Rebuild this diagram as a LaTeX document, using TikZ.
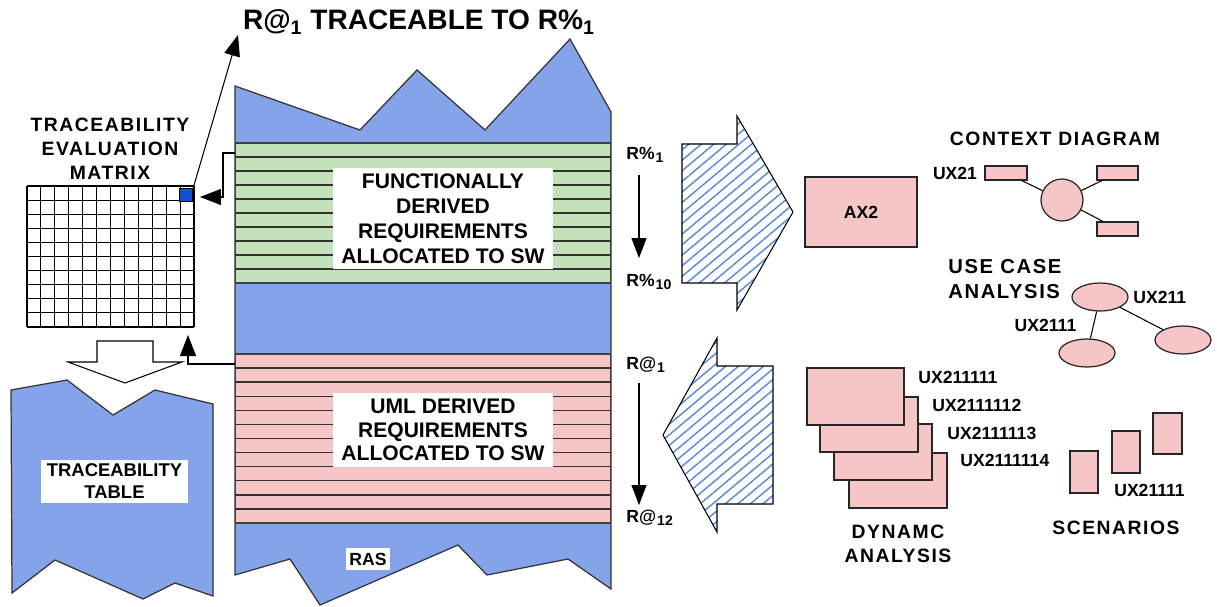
\documentclass[tikz,border=0pt]{standalone}
\usepackage{fontspec}
\setmainfont{Liberation Sans}
\newfontfamily\spacedfont{Liberation Sans}[LetterSpace=8]
\usetikzlibrary{arrows.meta,patterns.meta,shapes.geometric}

\definecolor{rasblue}{RGB}{132,163,232}
\definecolor{fngreen}{RGB}{196,226,186}
\definecolor{umlpink}{RGB}{246,198,198}
\definecolor{hatchblue}{RGB}{84,134,222}
\definecolor{cellblue}{RGB}{16,80,210}

% font size helper: size and baseline skip in pt
\newcommand\setfs[2]{\fontsize{#1}{#2}\selectfont}
% index digit set slightly lower and smaller after R% / R@
\newcommand\lowone[1]{\hspace{0.6pt}\raisebox{-0.3ex}{\setfs{8}{8}#1}}

\begin{document}
\begin{tikzpicture}[x=0.02cm,y=-0.02cm,
  rasshape/.style={fill=rasblue, draw=black!80, line width=0.7pt, line join=miter},
  bandline/.style={draw=black!80, line width=0.8pt},
  gridline/.style={draw=black, line width=0.6pt},
  hatched/.style={pattern={Lines[angle=40,distance=4.6pt,line width=0.8pt]},
                  pattern color=hatchblue, draw=black, line width=0.6pt},
  thinarrow/.style={draw=black, line width=0.6pt, -{Triangle[length=0.42cm,width=0.32cm]}},
  pinkbox/.style={draw=black!85, line width=0.7pt, fill=umlpink, inner sep=0pt},
  whitebox/.style={fill=white, inner sep=0pt, align=center},
  lbl/.style={font=\bfseries\setfs{10}{12}, inner sep=0pt},
  wide/.style={font=\spacedfont\bfseries\setfs{#1}{1.25\dimexpr#1pt\relax}, inner sep=0pt, align=center},
  wide/.default=11
]
\useasboundingbox (0,0) rectangle (1217,606);

% ---------------- title ----------------
\node[font=\bfseries\setfs{16}{18}, inner sep=0pt] (title) at (419,22)
  {R@\textsubscript{1} TRACEABLE TO R\%\textsubscript{1}};

% ---------------- central RAS column ----------------
\path[rasshape] (235,86) -- (360,130) -- (417,70) -- (485,130) -- (570,39)
  -- (611,112) -- (611,589) -- (568,559) -- (487,575) -- (458,545)
  -- (320,605) -- (290,559) -- (235,575) -- cycle;

\node[fill=fngreen, draw=black!75, line width=0.6pt, inner sep=0pt,
      minimum width=7.52cm, minimum height=2.8cm] (fnband) at (423,213) {};
\node[fill=umlpink, draw=black!75, line width=0.6pt, inner sep=0pt,
      minimum width=7.52cm, minimum height=3.38cm] (umlband) at (423,438.5) {};

\foreach \k in {1,...,9}
  \draw[bandline] (235,{143+14*\k}) -- (611,{143+14*\k});
\foreach \k in {1,...,11}
  \draw[bandline] (235,{354+14.08*\k}) -- (611,{354+14.08*\k});

\node[whitebox, font=\bfseries\setfs{12}{14.2}, minimum width=4.4cm, minimum height=2.02cm]
  (fntext) at (443,218.5) {FUNCTIONALLY\\DERIVED\\REQUIREMENTS\\ALLOCATED TO SW};
\node[whitebox, font=\bfseries\setfs{12}{13.4}, minimum width=4.4cm, minimum height=1.48cm]
  (umltext) at (443,430) {UML DERIVED\\REQUIREMENTS\\ALLOCATED TO SW};
\node[whitebox, font=\bfseries\setfs{10}{12}, minimum width=0.88cm, minimum height=0.44cm]
  (ras) at (368,559) {RAS};

% ---------------- traceability evaluation matrix ----------------
\node[wide=11] (mtxlabel) at (110,149) {TRACEABILITY\\EVALUATION\\MATRIX};
\node[fill=white, inner sep=0pt, minimum width=3.34cm, minimum height=2.82cm]
  (matrix) at (110.5,256.5) {};
\foreach \i in {0,...,12}
  \draw[gridline] ({27+\i*167/12},186) -- ({27+\i*167/12},327);
\foreach \j in {0,...,10}
  \draw[gridline] (27,{186+\j*14.1}) -- (194,{186+\j*14.1});
\node[fill=cellblue, draw=black, line width=0.6pt, inner sep=0pt,
      minimum size=0.27cm] (cell) at (186,195) {};

% matrix cell pointing to the title statement
\coordinate (titletip) at (238,35);
\draw[thinarrow] (cell.north east) -- (titletip);

% functional band feeding the matrix
\coordinate (fnout) at (235,153);
\coordinate (mtxin) at (200,197);
\draw[thinarrow] (fnout) -- ++(-12,0) |- (mtxin);

% UML band feeding the matrix
\coordinate (umlout) at (235,364);
\coordinate (mtxbottom) at (188,335);
\draw[thinarrow] (umlout) -| (mtxbottom);

% hollow block arrow from matrix down to the table
\draw[fill=white, draw=black, line width=0.6pt]
  (97,341) -- (153,341) -- (153,362) -- (182,362) -- (125,383)
  -- (68,362) -- (97,362) -- cycle;

% ---------------- traceability table ----------------
\path[rasshape] (11,390) -- (67,380) -- (113,415) -- (155,390) -- (213,404)
  -- (213,596) -- (175,583) -- (143,599) -- (55,560) -- (12,593) -- cycle;
\node[whitebox, font=\bfseries\setfs{10.5}{12.5}, minimum width=2.94cm, minimum height=0.86cm]
  (table) at (114.5,481.5) {TRACEABILITY\\TABLE};

% ---------------- requirement ranges ----------------
\node[lbl, anchor=west] (rp1) at (626,155) {R\%\lowone{1}};
\node[lbl, anchor=west] (rp10) at (626,282) {R\%\lowone{10}};
\coordinate (rpa) at (639,175);
\coordinate (rpb) at (639,258);
\draw[thinarrow, -{Triangle[length=0.4cm,width=0.3cm]}] (rpa) -- (rpb);

\node[lbl, anchor=west] (ra1) at (626,365) {R@\lowone{1}};
\node[lbl, anchor=west] (ra12) at (626,518) {R@\lowone{12}};
\coordinate (raa) at (639,383);
\coordinate (rab) at (639,505);
\draw[thinarrow, -{Triangle[length=0.4cm,width=0.3cm]}] (raa) -- (rab);

% hatched block arrows
\path[hatched] (682,144) -- (737,144) -- (737,116) -- (793,212) -- (737,310)
  -- (737,283) -- (682,283) -- cycle;
\path[hatched] (773,366) -- (717,366) -- (717,338) -- (663,435) -- (717,532)
  -- (717,504) -- (773,504) -- cycle;

% ---------------- AX2 ----------------
\node[pinkbox, font=\bfseries\setfs{10}{12}, minimum width=2.24cm, minimum height=1.4cm]
  (ax2) at (861,212) {AX2};

% ---------------- context diagram ----------------
\node[wide=11] (ctxlabel) at (1055,139) {CONTEXT DIAGRAM};
\node[lbl] (ux21) at (955,173) {UX21};
\node[pinkbox, circle, minimum size=0.84cm] (ctx) at (1062,200) {};
\node[pinkbox, minimum width=0.84cm, minimum height=0.28cm] (ctxa) at (1006,173) {};
\node[pinkbox, minimum width=0.82cm, minimum height=0.28cm] (ctxb) at (1117.5,173) {};
\node[pinkbox, minimum width=0.82cm, minimum height=0.28cm] (ctxc) at (1117.5,229) {};
\draw[line width=0.6pt] (ctxa) -- (ctx);
\draw[line width=0.6pt] (ctx) -- (ctxb);
\draw[line width=0.6pt] (ctx) -- (ctxc);

% ---------------- use case analysis ----------------
\node[wide=11.5, align=left, anchor=west] (uclabel) at (948,279) {USE CASE\\ANALYSIS};
\node[pinkbox, ellipse, minimum width=1.12cm, minimum height=0.56cm] (uca) at (1100,297) {};
\node[pinkbox, ellipse, minimum width=1.12cm, minimum height=0.56cm] (ucb) at (1087,353) {};
\node[pinkbox, ellipse, minimum width=1.12cm, minimum height=0.56cm] (ucc) at (1183,340) {};
\draw[line width=0.6pt] (uca) -- (ucb);
\draw[line width=0.6pt] (uca) -- (ucc);
\node[lbl, anchor=west] (ux211) at (1133,297) {UX211};
\node[lbl] (ux2111) at (1045.5,325) {UX2111};

% ---------------- dynamic analysis ----------------
\node[pinkbox, minimum width=1.96cm, minimum height=1.1cm] (dyn4) at (898,480.5) {};
\node[pinkbox, minimum width=1.96cm, minimum height=1.12cm] (dyn3) at (883,452) {};
\node[pinkbox, minimum width=1.96cm, minimum height=1.1cm] (dyn2) at (869,424.5) {};
\node[pinkbox, minimum width=1.94cm, minimum height=1.14cm] (dyn1) at (855.5,396.5) {};
\node[lbl, anchor=west] (dl1) at (918,377) {UX211111};
\node[lbl, anchor=west] (dl2) at (932,405) {UX2111112};
\node[lbl, anchor=west] (dl3) at (947,433) {UX2111113};
\node[lbl, anchor=west] (dl4) at (960,460) {UX2111114};
\node[wide=11] (dynlabel) at (898,543.5) {DYNAMC\\ANALYSIS};

% ---------------- scenarios ----------------
\node[pinkbox, minimum width=0.56cm, minimum height=0.84cm] (sc1) at (1084,472) {};
\node[pinkbox, minimum width=0.56cm, minimum height=0.84cm] (sc2) at (1126,452) {};
\node[pinkbox, minimum width=0.58cm, minimum height=0.82cm] (sc3) at (1167.5,433.5) {};
\node[lbl] (ux21111) at (1149.5,490) {UX21111};
\node[wide=11] (sclabel) at (1116,528) {SCENARIOS};
\end{tikzpicture}
\end{document}
